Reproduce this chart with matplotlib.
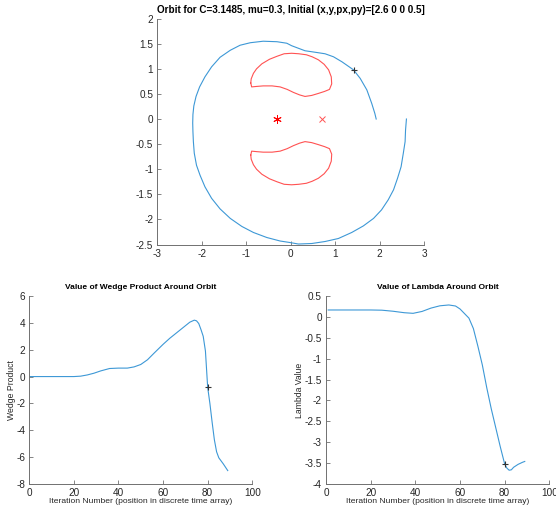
"""Orbit, wedge product and lambda plots for one restricted three-body orbit."""

import matplotlib
matplotlib.use("Agg")
import matplotlib.pyplot as plt
from matplotlib.ticker import FormatStrFormatter, MultipleLocator

plt.rcParams["font.family"] = ["Liberation Sans", "DejaVu Sans"]
plt.rcParams["axes.unicode_minus"] = False

# orbit in the rotating frame, from (2.6, 0) clockwise round to (1.92, 0)
orbit_x = [2.60, 2.58, 2.57, 2.53, 2.48, 2.40, 2.31, 2.19, 2.04, 1.86, 1.63, 1.37,
           1.07, 0.77, 0.47, 0.17, -0.02, -0.24, -0.54, -0.84, -1.10, -1.36, -1.59,
           -1.78, -1.93, -2.04, -2.12, -2.17, -2.19, -2.20, -2.205, -2.20, -2.18,
           -2.13, -2.05, -1.93, -1.78, -1.59, -1.36, -1.14, -0.91, -0.62, -0.31,
           -0.09, 0.02, 0.17, 0.32, 0.55, 0.77, 0.96, 1.15, 1.41, 1.56, 1.71, 1.82,
           1.89, 1.92]
orbit_y = [0.00, -0.22, -0.45, -0.68, -0.95, -1.18, -1.41, -1.61, -1.81, -1.98,
           -2.13, -2.26, -2.38, -2.44, -2.48, -2.49, -2.46, -2.43, -2.36, -2.26,
           -2.14, -1.98, -1.79, -1.58, -1.35, -1.12, -0.92, -0.68, -0.45, -0.25,
           -0.08, 0.09, 0.26, 0.45, 0.64, 0.84, 1.04, 1.23, 1.37, 1.47, 1.52, 1.55,
           1.54, 1.51, 1.46, 1.41, 1.36, 1.33, 1.30, 1.24, 1.14, 0.98, 0.81, 0.58,
           0.31, 0.11, 0.00]
marker_xy = (1.41, 0.98)

# zero velocity curves around L4 and L5
upper_x = [-0.90, -0.88, -0.76, -0.62, -0.42, -0.24, -0.08, 0.06, 0.20, 0.32, 0.47,
           0.62, 0.76, 0.87, 0.92, 0.91, 0.85, 0.75, 0.62, 0.48, 0.35, 0.18, 0.02,
           -0.15, -0.31, -0.48, -0.65, -0.77, -0.84, -0.89, -0.90]
upper_y = [0.72, 0.64, 0.65, 0.66, 0.66, 0.64, 0.59, 0.53, 0.48, 0.45, 0.47,
           0.51, 0.55, 0.59, 0.70, 0.84, 0.98, 1.09, 1.18, 1.24, 1.28, 1.30, 1.31,
           1.30, 1.25, 1.19, 1.10, 1.00, 0.91, 0.80, 0.72]
lower_x = [-0.90, -0.88, -0.76, -0.62, -0.42, -0.24, -0.08, 0.06, 0.20, 0.32, 0.47,
           0.62, 0.76, 0.87, 0.92, 0.91, 0.85, 0.75, 0.62, 0.48, 0.35, 0.18, 0.02,
           -0.15, -0.31, -0.48, -0.65, -0.77, -0.84, -0.89, -0.90]
lower_y = [-0.72, -0.64, -0.65, -0.66, -0.66, -0.64, -0.59, -0.53, -0.48, -0.45, -0.47,
           -0.51, -0.55, -0.59, -0.70, -0.84, -0.98, -1.09, -1.18, -1.24, -1.28, -1.30,
           -1.31, -1.30, -1.25, -1.19, -1.10, -1.00, -0.91, -0.80, -0.72]
big_primary = (-0.3, 0.0)
small_primary = (0.7, 0.0)

wedge_iter = [0, 10, 20, 23, 26, 29, 32, 36, 40, 44, 47, 50, 53, 56, 60, 63, 66, 69,
              72, 74, 75, 76, 77, 78, 79, 80, 81, 82, 83, 84, 85, 87, 89]
wedge_value = [0.0, 0.0, 0.0, 0.03, 0.12, 0.25, 0.42, 0.60, 0.63, 0.63, 0.72, 0.90,
               1.25, 1.75, 2.40, 2.85, 3.25, 3.65, 4.05, 4.20, 4.15, 3.95, 3.50, 3.00,
               1.90, -0.80, -2.00, -3.40, -4.70, -5.60, -6.05, -6.50, -7.00]

lambda_iter = [1, 10, 20, 25, 30, 35, 39, 43, 47, 51, 55, 58, 60, 62, 64, 66, 68, 70,
               72, 74, 76, 78, 80, 81, 82, 83, 84, 86, 88, 89]
lambda_value = [0.165, 0.165, 0.165, 0.16, 0.135, 0.10, 0.085, 0.13, 0.21, 0.265,
                0.285, 0.26, 0.19, 0.08, -0.03, -0.28, -0.70, -1.15, -1.70, -2.20,
                -2.65, -3.10, -3.52, -3.62, -3.67, -3.66, -3.60, -3.53, -3.48, -3.46]

BLUE = "#3d98d6"
RED = "#ff5252"
TEXT = "#262626"


def matlab_axes(ax):
    for side in ("top", "right"):
        ax.spines[side].set_visible(False)
    for side in ("left", "bottom"):
        ax.spines[side].set_color("#707070")
        ax.spines[side].set_linewidth(0.7)
    ax.tick_params(direction="in", length=3, width=0.6, color="#707070",
                   labelcolor=TEXT, labelsize=7.2, pad=3)


fig = plt.figure(figsize=(5.56, 5.09), dpi=100)

ax = fig.add_axes([0.283, 0.5196, 0.480, 0.4438])
ax.plot(orbit_x, orbit_y, color=BLUE, linewidth=0.8)
ax.plot(upper_x, upper_y, color=RED, linewidth=0.8)
ax.plot(lower_x, lower_y, color=RED, linewidth=0.8)
ax.plot(*big_primary, marker=(6, 2, 0), color="red", markersize=6, markeredgewidth=0.7)
ax.plot(*small_primary, marker="x", color=RED, markersize=4, markeredgewidth=0.7)
ax.plot(*marker_xy, marker="+", color="#333333", markersize=5, markeredgewidth=0.8)
ax.set_xlim(-3, 3)
ax.set_ylim(-2.5, 2)
ax.xaxis.set_major_locator(MultipleLocator(1))
ax.yaxis.set_major_locator(MultipleLocator(0.5))
ax.yaxis.set_major_formatter(FormatStrFormatter("%g"))
ax.set_title("Orbit for C=3.1485, mu=0.3, Initial (x,y,px,py)=[2.6 0 0 0.5]",
             fontsize=7.1, fontweight="bold", color="black", pad=4)
matlab_axes(ax)

ax = fig.add_axes([0.0527, 0.0491, 0.401, 0.3694])
ax.plot(wedge_iter, wedge_value, color=BLUE, linewidth=0.8)
ax.plot(80, -0.8, marker="+", color="#333333", markersize=5, markeredgewidth=0.8)
ax.set_xlim(0, 100)
ax.set_ylim(-8, 6)
ax.xaxis.set_major_locator(MultipleLocator(20))
ax.yaxis.set_major_locator(MultipleLocator(2))
ax.set_title("Value of Wedge Product Around Orbit", fontsize=6.0,
             fontweight="bold", color="black", pad=5)
ax.set_xlabel("Iteration Number (position in discrete time array)", fontsize=6.1,
              color=TEXT, labelpad=0)
ax.set_ylabel("Wedge Product", fontsize=6.2, color=TEXT, labelpad=0)
matlab_axes(ax)

ax = fig.add_axes([0.5863, 0.0491, 0.4017, 0.3694])
ax.plot(lambda_iter, lambda_value, color=BLUE, linewidth=0.8)
ax.plot(80, -3.52, marker="+", color="#333333", markersize=5, markeredgewidth=0.8)
ax.set_xlim(0, 100)
ax.set_ylim(-4, 0.5)
ax.xaxis.set_major_locator(MultipleLocator(20))
ax.yaxis.set_major_locator(MultipleLocator(0.5))
ax.yaxis.set_major_formatter(FormatStrFormatter("%g"))
ax.set_title("Value of Lambda Around Orbit", fontsize=6.0,
             fontweight="bold", color="black", pad=5)
ax.set_xlabel("Iteration Number (position in discrete time array)", fontsize=6.1,
              color=TEXT, labelpad=0)
ax.set_ylabel("Lambda Value", fontsize=6.2, color=TEXT, labelpad=0)
matlab_axes(ax)

fig.savefig("out.png", dpi=100, facecolor="white")
